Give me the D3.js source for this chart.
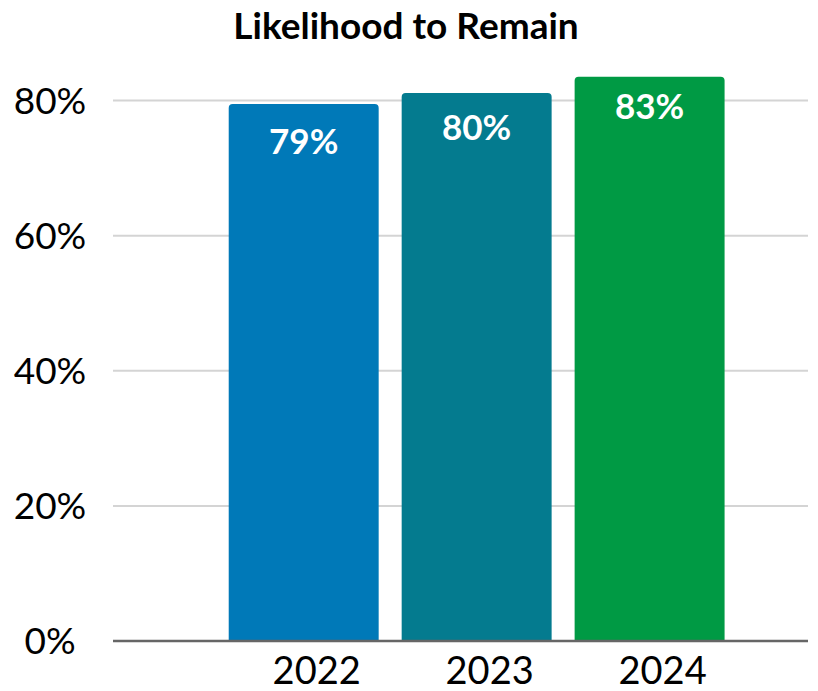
<!DOCTYPE html>
<meta charset="utf-8">
<style>
  body { margin: 0; background: #fff; font-family: Lato, "Open Sans", sans-serif; }
  svg { display: block; }
</style>
<svg id="chart" width="818" height="691"></svg>
<script src="https://cdn.jsdelivr.net/npm/d3@7/dist/d3.min.js"></script>
<script>
// data
var years = ["2022", "2023", "2024"];
var values = [79.5, 81.1, 83.5];
var labels = ["79%", "80%", "83%"];
var barColors = ["#0079b8", "#047b8f", "#009a44"];
var yTicks = [0, 20, 40, 60, 80];

var svg = d3.select("#chart");

var x = d3.scaleBand().domain(years)
  .range([113, 805])
  .paddingInner(0.133).paddingOuter(0.567).align(0.59);
var y = d3.scaleLinear().domain([0, 80]).range([641, 100.5]);

// title
svg.append("text")
  .attr("x", 406).attr("y", 39)
  .attr("text-anchor", "middle")
  .style("font-size", "37px").style("font-weight", 700)
  .text("Likelihood to Remain");

// gridlines
svg.append("g").selectAll("line")
  .data(yTicks.filter(function (d) { return d > 0; }))
  .enter().append("line")
  .attr("x1", 113).attr("x2", 808)
  .attr("y1", function (d) { return y(d); })
  .attr("y2", function (d) { return y(d); })
  .attr("stroke", "#d4d4d4").attr("stroke-width", 2);

// y tick labels
svg.append("g").selectAll("text")
  .data(yTicks).enter().append("text")
  .attr("x", 50)
  .attr("y", function (d) { return y(d) + 13; })
  .attr("text-anchor", "middle")
  .style("font-size", "37px")
  .text(function (d) { return d + "%"; });

// bars (rounded top corners only)
function barPath(d, i) {
  var x0 = x(years[i]), w = x.bandwidth(), top = y(d), bot = y(0), r = 4;
  return "M" + x0 + "," + bot +
    "V" + (top + r) + "Q" + x0 + "," + top + " " + (x0 + r) + "," + top +
    "H" + (x0 + w - r) + "Q" + (x0 + w) + "," + top + " " + (x0 + w) + "," + (top + r) +
    "V" + bot + "Z";
}
svg.append("g").selectAll("path")
  .data(values).enter().append("path")
  .attr("d", barPath)
  .attr("fill", function (d, i) { return barColors[i]; });

// value labels
svg.append("g").selectAll("text")
  .data(values).enter().append("text")
  .attr("x", function (d, i) { return x(years[i]) + x.bandwidth() / 2; })
  .attr("y", function (d) { return y(d) + 50 - (d - 79.5) * 2; })
  .attr("text-anchor", "middle")
  .attr("fill", "#fff")
  .style("font-size", "35px").style("font-weight", 700)
  .text(function (d, i) { return labels[i]; });

// zero line
svg.append("line")
  .attr("x1", 113).attr("x2", 808)
  .attr("y1", y(0)).attr("y2", y(0))
  .attr("stroke", "#666").attr("stroke-width", 2.5);

// x labels
svg.append("g").selectAll("text")
  .data(years).enter().append("text")
  .attr("x", function (d) { return x(d) + x.bandwidth() / 2 + 13; })
  .attr("y", 684)
  .attr("text-anchor", "middle")
  .style("font-size", "38px")
  .text(function (d) { return d; });
</script>
